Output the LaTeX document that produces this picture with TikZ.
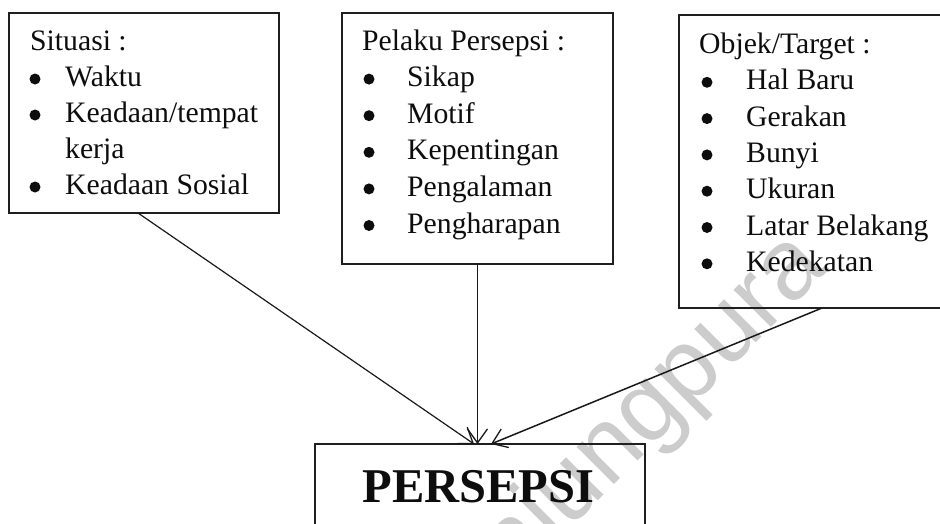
\documentclass[tikz,border=0pt]{standalone}
\usepackage{fontspec}
\setmainfont{Liberation Serif}
\newfontfamily\wmfont{Liberation Sans}
\usetikzlibrary{arrows.meta,calc}
\begin{document}
\begin{tikzpicture}[x=1pt,y=-1pt,
  frame/.style={draw=black!88, line width=1.7pt, inner sep=0pt, outer sep=0pt, anchor=north west},
  txt/.style={font=\fontsize{29.7}{36}\selectfont, anchor=base west, inner sep=0pt, text=black!95},
  dot/.style={circle, fill=black!95, inner sep=0pt, minimum size=11pt},
  link/.style={draw=black!90, line width=1.2pt, -{Straight Barb[length=14pt,width=20pt,line width=1.3pt]}}]
\useasboundingbox (0,0) rectangle (940,523);
\clip (0,0) rectangle (940,523);
% watermark
\node[font=\wmfont\fontsize{100}{100}\selectfont, text=black!20, rotate=45, anchor=base west, inner sep=0pt] (wm) at (440,659) {Tanjungpura};
% boxes
\node[frame, minimum width=270pt, minimum height=200pt] (box1) at (9,13) {};
\node[frame, minimum width=271pt, minimum height=251pt] (box2) at (342,13) {};
\node[frame, minimum width=280pt, minimum height=293pt] (box3) at (679,15) {};
\node[frame, minimum width=330pt, minimum height=120pt] (main) at (315,444) {};
\node[font=\bfseries\fontsize{48.5}{50}\selectfont, anchor=base, inner sep=0pt, text=black!95] (title) at (478.5,502) {PERSEPSI};
% box 1
\node[txt] (s0) at (30,50) {Situasi :};
\node[dot] (sd1) at (35,79) {};
\node[txt] (s1) at (65,86.5) {Waktu};
\node[dot] (sd2) at (35,115) {};
\node[txt] (s2) at (65,122.5) {Keadaan/tempat};
\node[txt] (s3) at (65,158.5) {kerja};
\node[dot] (sd4) at (35,187) {};
\node[txt] (s4) at (65,194.5) {Keadaan Sosial};
% box 2
\node[txt] (p0) at (362,50) {Pelaku Persepsi :};
\node[dot] (pd1) at (369,79.1) {};
\node[txt] (p1) at (407,86.6) {Sikap};
\node[dot] (pd2) at (369,115.7) {};
\node[txt] (p2) at (407,123.2) {Motif};
\node[dot] (pd3) at (369,152.3) {};
\node[txt] (p3) at (407,159.8) {Kepentingan};
\node[dot] (pd4) at (369,188.9) {};
\node[txt] (p4) at (407,196.4) {Pengalaman};
\node[dot] (pd5) at (369,225.5) {};
\node[txt] (p5) at (407,233) {Pengharapan};
% box 3
\node[txt] (o0) at (699,53.5) {Objek/Target :};
\node[dot] (od1) at (707,82.3) {};
\node[txt] (o1) at (746,89.8) {Hal Baru};
\node[dot] (od2) at (707,118.6) {};
\node[txt] (o2) at (746,126.1) {Gerakan};
\node[dot] (od3) at (707,154.9) {};
\node[txt] (o3) at (746,162.4) {Bunyi};
\node[dot] (od4) at (707,191.2) {};
\node[txt] (o4) at (746,198.7) {Ukuran};
\node[dot] (od5) at (707,227.5) {};
\node[txt] (o5) at (746,235) {Latar Belakang};
\node[dot] (od6) at (707,263.8) {};
\node[txt] (o6) at (746,271.3) {Kedekatan};
% connectors
\draw[link] ($(box1.south west)+(129,0)$) -- ($(main.north west)+(159,0)$);
\draw[link] (box2.south) -- (box2.south |- main.north);
\draw[link, line width=1.5pt] ($(box3.south west)+(143,0)$) -- ($(main.north west)+(176,0)$);
\end{tikzpicture}
\end{document}
